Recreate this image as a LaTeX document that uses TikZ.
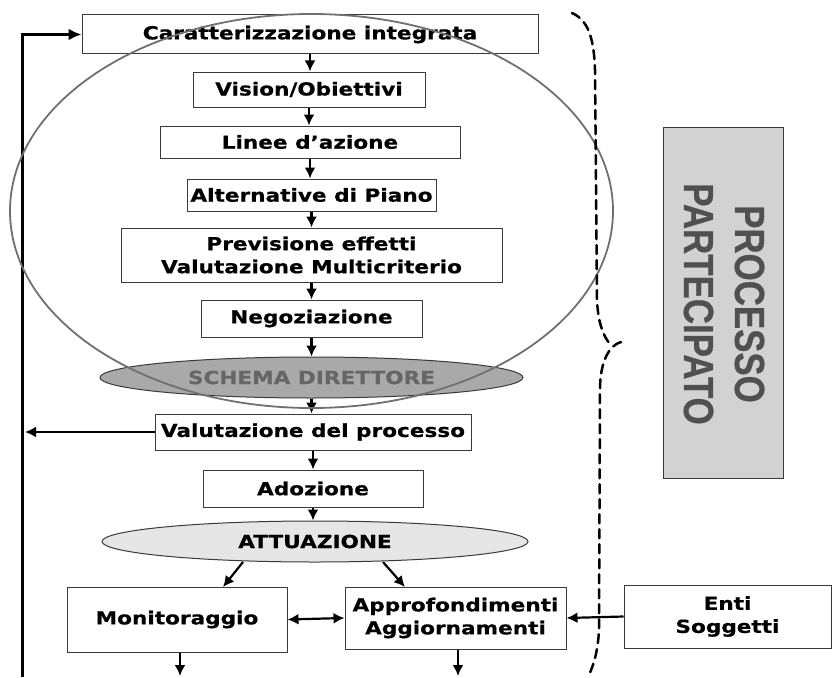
\documentclass[tikz,border=0pt]{standalone}
\usepackage{fontspec}
\setmainfont{DejaVu Sans}[FakeStretch=1.2, BoldFeatures={FakeBold=0.6}]
\newfontfamily\bannerfont{Liberation Sans}[FakeStretch=0.83, BoldFeatures={FakeBold=0.6}]
\usetikzlibrary{arrows.meta,shapes.geometric}

\definecolor{boxline}{HTML}{3A3A3A}
\definecolor{ringline}{HTML}{707070}
\definecolor{schemafill}{HTML}{A9A9A9}
\definecolor{schematext}{HTML}{666666}
\definecolor{attfill}{HTML}{E6E6E6}
\definecolor{bannerfill}{HTML}{D2D2D2}
\definecolor{bannertext}{HTML}{505050}

\newcommand\flowfont{\bfseries\fontsize{18}{23}\selectfont}

\tikzset{
  tip/.tip={Latex[length=11pt,width=11pt]},
  box/.style={draw=boxline, line width=1pt, fill=white, align=center,
              inner sep=0pt, font=\flowfont},
  lens/.style={ellipse, draw=boxline, line width=1pt, inner sep=0pt,
               font=\flowfont},
  flow/.style={line width=2.2pt, -tip},
  twoway/.style={line width=2.2pt, tip-tip},
  feedback/.style={line width=3pt},
  brace/.style={line width=2.5pt, dash pattern=on 9pt off 6pt, line cap=round},
}

\begin{document}
\begin{tikzpicture}[x=1pt,y=-1pt]
\useasboundingbox (0,0) rectangle (832,677);

% main column of the planning process
\node[box, minimum width=456pt, minimum height=39pt] (car) at (310,34.5) {Caratterizzazione integrata};
\node[box, minimum width=232pt, minimum height=35pt] (vis) at (309,89.5) {Vision/Obiettivi};
\node[box, minimum width=300pt, minimum height=32pt] (lin) at (310,142) {Linee d’azione};
\node[box, minimum width=249pt, minimum height=32pt] (alt) at (311.5,195) {Alternative di Piano};
\node[box, minimum width=381pt, minimum height=54pt] (prev) at (311.5,255) {Previsione effetti\\Valutazione Multicriterio};
\node[box, minimum width=221pt, minimum height=37pt] (neg) at (311.5,318.5) {Negoziazione};
\node[lens, fill=schemafill, text=schematext, minimum width=423pt, minimum height=41pt] (sch) at (311.5,377.5) {SCHEMA DIRETTORE};
\node[box, minimum width=316pt, minimum height=36pt] (val) at (313,432) {Valutazione del processo};
\node[box, minimum width=220pt, minimum height=37pt] (ado) at (313,488.5) {Adozione};
\node[lens, fill=attfill, minimum width=426pt, minimum height=41pt] (att) at (315,541.5) {ATTUAZIONE};
\node[box, minimum width=220pt, minimum height=65pt] (mon) at (177,619.5) {Monitoraggio};
\node[box, minimum width=221pt, minimum height=62pt] (app) at (455.5,618) {Approfondimenti\\Aggiornamenti};
\node[box, minimum width=207pt, minimum height=63pt] (enti) at (727.5,616.5) {Enti\\Soggetti};

% participation banner
\node[draw=boxline, line width=1pt, fill=bannerfill, minimum width=120pt, minimum height=351pt] (banner) at (723,302.5) {};
\node[rotate=-90, align=center, text=bannertext,
      font=\bannerfont\bfseries\fontsize{42}{51}\selectfont] (bannertxt) at (724,304) {PROCESSO\\PARTECIPATO};

% flow connectors
\draw[flow] (car.south) -- (car.south |- vis.north);
\draw[flow] (vis.south) -- (vis.south |- lin.north);
\draw[flow] (lin.south) -- (lin.south |- alt.north);
\draw[flow] (alt.south) -- (alt.south |- prev.north);
\draw[flow] (prev.south) -- (prev.south |- neg.north);
\draw[flow] (neg.south) -- (neg.south |- sch.north);
\draw[flow] (sch.south) -- (sch.south |- val.north);
\draw[flow] (val.south) -- (val.south |- ado.north);
\draw[flow] (ado.south) -- (ado.south |- att.north);
\coordinate (attL) at (243,562);
\coordinate (attR) at (383,562);
\coordinate (monT) at (223,587);
\coordinate (appT) at (405,587);
\draw[flow] (attL) -- (monT);
\draw[flow] (attR) -- (appT);
\draw[twoway] (mon.east) -- (app.west);
\draw[flow] (enti.west) -- (app.east);
\coordinate (monOut) at (180,676);
\coordinate (appOut) at (458,676);
\draw[flow] (mon.south -| monOut) -- (monOut);
\draw[flow] (app.south -| appOut) -- (appOut);

% feedback loop on the left
\coordinate (loopbot) at (22,677);
\coordinate (looptop) at (22,34.5);
\draw[feedback] (loopbot) -- (looptop);
\draw[feedback, -{Latex[length=13pt,width=12pt]}] ([xshift=-1.5pt]looptop) -- (car.west);
\draw[flow] (val.west) -- ([xshift=3pt]val.west -| loopbot);

% technical phase enclosure
\node[ellipse, draw=ringline, line width=1.8pt, minimum width=603pt, minimum height=394pt, inner sep=0pt] (ring) at (311.5,211) {};

% dashed brace of the participatory process
\draw[brace] (572,13) .. controls (588,20) and (594,38) .. (595,70)
  -- (597,300) .. controls (598,322) and (603,336) .. (610,344);
\draw[brace] (621,342) .. controls (610,345) and (600,360) .. (600,390)
  -- (599,630) .. controls (598,650) and (594,665) .. (588,677);
\end{tikzpicture}
\end{document}
